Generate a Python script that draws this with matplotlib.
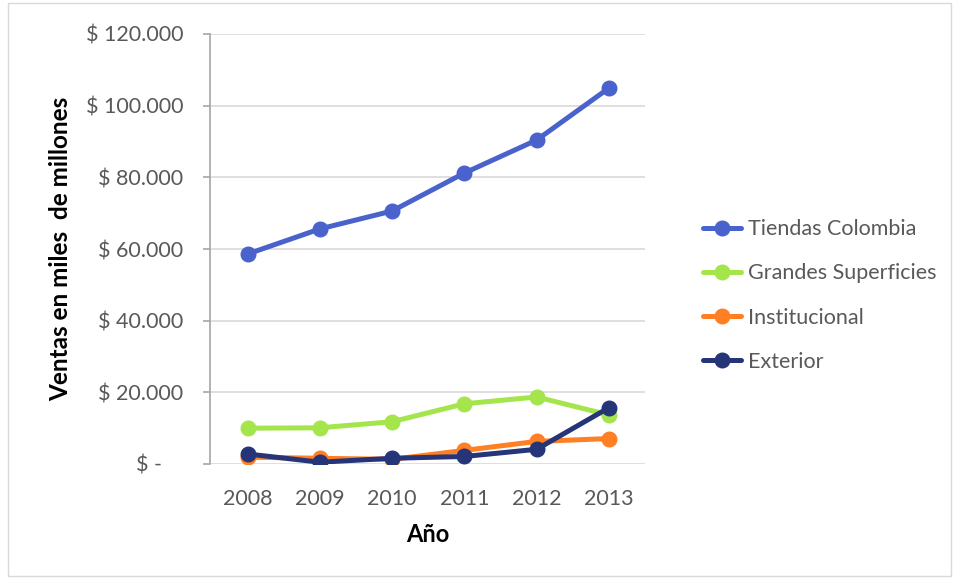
import matplotlib.pyplot as plt
from matplotlib.ticker import FuncFormatter

plt.rcParams['font.family'] = ['Lato', 'DejaVu Sans']

years = ['2008', '2009', '2010', '2011', '2012', '2013']
tiendas_colombia = [58600, 65600, 70600, 81200, 90400, 104900]
grandes_superficies = [10000, 10100, 11800, 16800, 18700, 13700]
institucional = [1900, 1600, 1300, 3800, 6300, 7100]
exterior = [2800, 500, 1600, 2100, 4100, 15700]

series = [
    ('Tiendas Colombia', tiendas_colombia, '#4A62CC'),
    ('Grandes Superficies', grandes_superficies, '#A4E54C'),
    ('Institucional', institucional, '#FF7F24'),
    ('Exterior', exterior, '#253578'),
]

fig = plt.figure(figsize=(9.59, 5.79), dpi=100)
ax = fig.add_axes([210 / 959, 1 - 464 / 579, 435 / 959, 430 / 579])

x = list(range(len(years)))
for name, vals, color in series:
    ax.plot(x, vals, color=color, lw=3.6, marker='o', markersize=10.5,
            solid_capstyle='round', label=name, zorder=3)

ax.set_xlim(-0.52, 5.5)
ax.set_ylim(0, 120000)
ax.set_yticks(range(0, 120001, 20000))
ax.set_xticks(x)
ax.set_xticklabels(years)


def money(v, pos):
    if v == 0:
        return '$ -    '
    return '$ ' + f'{int(v):,}'.replace(',', '.')


ax.yaxis.set_major_formatter(FuncFormatter(money))
ax.grid(axis='y', color='#D9D9D9', lw=1.2, zorder=0)
for s in ['top', 'right', 'bottom']:
    ax.spines[s].set_visible(False)
ax.spines['left'].set_color('#A6A6A6')
ax.spines['left'].set_linewidth(1.2)
ax.tick_params(axis='y', colors='#A6A6A6', length=5, width=1.2, pad=14,
               labelcolor='#595959', labelsize=15.5)
ax.tick_params(axis='x', length=0, pad=18, labelcolor='#595959', labelsize=15.5)

ax.set_ylabel('Ventas en miles  de millones', fontsize=17.5, fontweight='bold',
              color='black', labelpad=10)
ax.set_xlabel('Año', fontsize=17, fontweight='bold', color='black', labelpad=10)

leg = fig.legend(loc='upper left', bbox_to_anchor=(684 / 959, 1 - 200 / 579),
                 frameon=False, fontsize=15.5, labelspacing=1.12,
                 handlelength=1.75, handletextpad=0.3)
for t in leg.get_texts():
    t.set_color('#595959')

fig.patches.append(plt.Rectangle((8 / 959, 3 / 579), 943 / 959, 573 / 579,
                                 transform=fig.transFigure, fill=False,
                                 edgecolor='#D9D9D9', lw=1))

fig.savefig('out.png', dpi=100)
